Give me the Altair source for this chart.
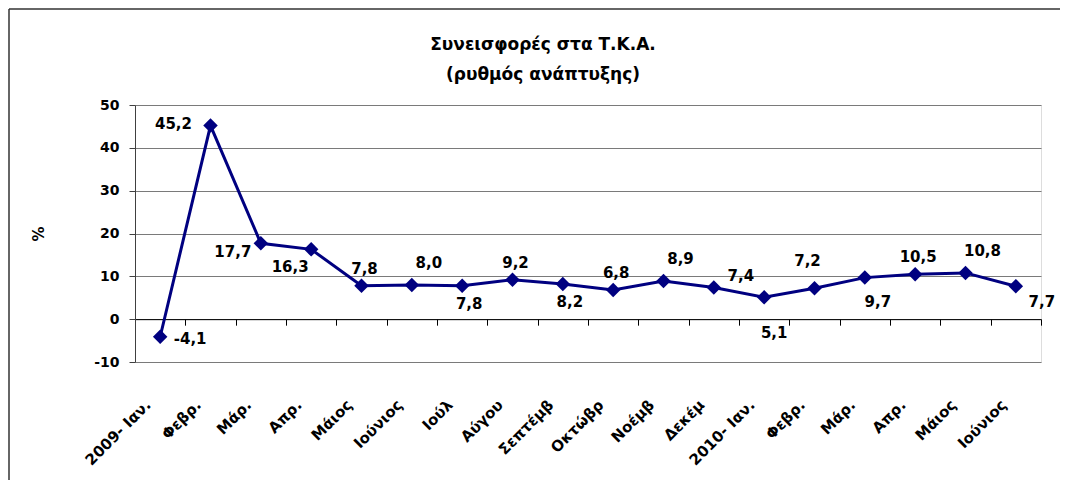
import json
import altair as alt
import pandas as pd

# ---- data ----
labels = ["2009- Ιαν.", "Φεβρ.", "Μάρ.", "Απρ.", "Μάιος", "Ιούνιος", "Ιούλ", "Αύγου",
          "Σεπτέμβ", "Οκτώβρ", "Νοέμβ", "Δεκέμ", "2010- Ιαν.", "Φεβρ.", "Μάρ.", "Απρ.",
          "Μάιος", "Ιούνιος"]
values = [-4.1, 45.2, 17.7, 16.3, 7.8, 8.0, 7.8, 9.2, 8.2, 6.8, 8.9, 7.4, 5.1, 7.2,
          9.7, 10.5, 10.8, 7.7]
y_ticks = [-10, 0, 10, 20, 30, 40, 50]
placements = ["right", "left", "left-below", "below-left", "above", "above-right",
              "below", "above", "below", "above", "above-right", "right-above",
              "far-below", "above-left", "below-right", "above", "above-right",
              "right-below"]
title_lines = ["Συνεισφορές στα Τ.Κ.Α.", "(ρυθμός ανάπτυξης)"]

# label offsets (style) per placement name
offsets = {
    "right": (30, 2), "left": (-37, -2), "left-below": (-28, 9),
    "below-left": (-21, 18), "above": (3, -17), "above-right": (17, -22),
    "below": (7, 18), "right-above": (27, -11), "far-below": (10, 36),
    "above-left": (-7, -27), "below-right": (13, 24), "right-below": (26, 16),
}

df = pd.DataFrame({"idx": list(range(len(values))), "value": values, "pos": placements})

FONT = "DejaVu Sans"
NAVY = "#000080"
W, H = 906, 257
zero_px = H * 50 / 60

label_expr = json.dumps(labels, ensure_ascii=False) + "[datum.value]"
xscale = alt.Scale(type="band", paddingInner=0, paddingOuter=0)

yenc = alt.Y("value:Q", scale=alt.Scale(domain=[-10, 50], nice=False, zero=False),
             axis=alt.Axis(values=y_ticks, title="%", titleAngle=-90, titleX=-97,
                           titleY=H / 2, titleFontSize=15, titleFontWeight="bold",
                           titleFont=FONT, titleColor="black", titleAlign="center",
                           titleBaseline="middle",
                           labelExpr="replace(format(datum.value,'d'),'\u2212','-')",
                           labelFont=FONT, labelFontSize=14, labelFontWeight="bold",
                           labelColor="black", labelPadding=10, tickSize=6,
                           tickColor="#404040", domainColor="#404040",
                           grid=True, gridColor="#7a7a7a", gridWidth=1))

base = alt.Chart(df)

line = base.mark_line(color=NAVY, strokeWidth=3).encode(
    x=alt.X("idx:O", scale=xscale,
            axis=alt.Axis(orient="bottom", title=None, domain=False, ticks=False,
                          labelExpr=label_expr, labelAngle=-45, labelAlign="right",
                          labelBaseline="middle", labelPadding=40, labelOffset=-12,
                          labelFont=FONT, labelFontSize=15, labelFontWeight="bold",
                          labelColor="black", labelLimit=200, grid=False)),
    y=yenc,
)

points = base.mark_point(shape="diamond", filled=True, size=210, color=NAVY, opacity=1).encode(
    x=alt.X("idx:O", scale=xscale,
            axis=alt.Axis(orient="bottom", title=None, labels=False, offset=-(H - zero_px),
                          domain=True, domainColor="black", domainWidth=1,
                          ticks=True, tickColor="black", tickSize=6, tickBand="extent",
                          grid=False)),
    y=yenc,
)

text_layers = []
for name, (dx, dy) in offsets.items():
    text_layers.append(
        base.transform_filter(alt.datum.pos == name)
        .transform_calculate(txt="replace(replace(format(datum.value,'.1f'),'.',','),'\u2212','-')")
        .mark_text(dx=dx, dy=dy, font=FONT, fontSize=15, fontWeight="bold", color="black",
                   align="center", baseline="middle")
        .encode(x=alt.X("idx:O", scale=xscale, axis=None), y=yenc, text="txt:N")
    )

frame_data = alt.Data(values=[{"a": 1}])

title1 = alt.Chart(alt.Data(values=[{"t": title_lines[0]}])).mark_text(
    font=FONT, fontSize=17, fontWeight="bold", color="black", align="center",
    baseline="middle").encode(text="t:N", x=alt.value(408), y=alt.value(-60))
title2 = alt.Chart(alt.Data(values=[{"t": title_lines[1]}])).mark_text(
    font=FONT, fontSize=17, fontWeight="bold", color="black", align="center",
    baseline="middle").encode(text="t:N", x=alt.value(408), y=alt.value(-30))

frame_top = alt.Chart(frame_data).mark_rule(color="#333333", strokeWidth=1.5).encode(
    x=alt.value(-126), x2=alt.value(1200), y=alt.value(-96))
frame_left = alt.Chart(frame_data).mark_rule(color="#333333", strokeWidth=1.5).encode(
    x=alt.value(-126), y=alt.value(-96), y2=alt.value(600))

chart = alt.layer(line, points, *text_layers, title1, title2, frame_top, frame_left).resolve_axis(
    x="independent"
).properties(
    width=W, height=H,
    autosize=alt.AutoSizeParams(type="none"),
    padding={"left": 127, "top": 97, "right": 19, "bottom": 118},
).configure_view(strokeWidth=0).configure(background="white")

chart.save("out.html", embed_options={"renderer": "svg", "actions": False})
